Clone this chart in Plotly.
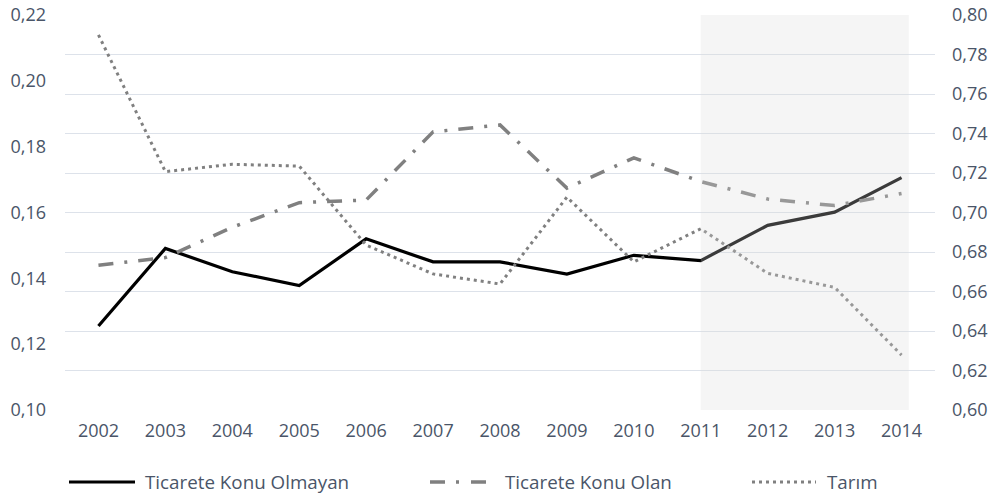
import plotly.graph_objects as go

years = list(range(2002, 2015))
ticarete_konu_olmayan = [0.1255, 0.1491, 0.1420, 0.1378, 0.1520, 0.1450, 0.1450,
                         0.1413, 0.1470, 0.1454, 0.1561, 0.1601, 0.1706]
ticarete_konu_olan = [0.1440, 0.1463, 0.1555, 0.1630, 0.1638, 0.1845, 0.1866,
                      0.1674, 0.1766, 0.1694, 0.1641, 0.1621, 0.1658]
tarim = [0.7899, 0.7207, 0.7244, 0.7235, 0.6835, 0.6689, 0.6638,
         0.7078, 0.6750, 0.6918, 0.6692, 0.6621, 0.6278]
legend_names = ["Ticarete Konu Olmayan", "Ticarete Konu Olan", "Tarım"]

FONT = "Open Sans, Lato, sans-serif"
TXT = "#4a5568"
W, H = 998, 497
L, R, T, B = 65, 63, 15, 87
PW, PH = W - L - R, H - T - B


def px_x(px):
    return (px - L) / PW


def px_y(py):
    return (H - B - py) / PH


fig = go.Figure()
fig.add_trace(go.Scatter(x=years, y=ticarete_konu_olmayan, mode="lines",
                         name=legend_names[0], line=dict(color="#000000", width=3.2),
                         showlegend=False))
fig.add_trace(go.Scatter(x=years, y=ticarete_konu_olan, mode="lines",
                         name=legend_names[1],
                         line=dict(color="#808080", width=3.5, dash="15px,11px,3px,11px"),
                         showlegend=False))
fig.add_trace(go.Scatter(x=years, y=tarim, mode="lines", name=legend_names[2],
                         yaxis="y2",
                         line=dict(color="#808080", width=3, dash="3px,4px"),
                         showlegend=False))

shapes = [
    dict(type="rect", xref="x", yref="paper", x0=2011, x1=2014.11, y0=0, y1=1,
         fillcolor="rgba(218,218,218,0.27)", line=dict(width=0), layer="above"),
    # manual legend symbols
    dict(type="line", xref="paper", yref="paper", x0=px_x(69), x1=px_x(135),
         y0=px_y(482), y1=px_y(482), line=dict(color="#000000", width=3.2)),
    dict(type="line", xref="paper", yref="paper", x0=px_x(430), x1=px_x(488),
         y0=px_y(482), y1=px_y(482),
         line=dict(color="#808080", width=3.5, dash="15px,11px,3px,12px")),
    dict(type="line", xref="paper", yref="paper", x0=px_x(752), x1=px_x(816),
         y0=px_y(482), y1=px_y(482),
         line=dict(color="#808080", width=3, dash="3px,4px")),
]

annotations = []
for name, xpx in zip(legend_names, [143, 503, 825]):
    annotations.append(dict(text=name, xref="paper", yref="paper", x=px_x(xpx),
                            y=px_y(482), xanchor="left", yanchor="middle",
                            showarrow=False, font=dict(family=FONT, size=18.8, color=TXT)))

fig.update_layout(
    width=W, height=H,
    margin=dict(l=L, r=R, t=T, b=B, autoexpand=False),
    paper_bgcolor="white", plot_bgcolor="white",
    separators=",.",
    showlegend=False,
    font=dict(family=FONT, size=18, color=TXT),
    xaxis=dict(range=[2001.5, 2014.5], tickmode="array", tickvals=years,
               ticktext=[str(y) for y in years], showgrid=False, zeroline=False,
               showline=False, ticks="", ticklabelstandoff=8, automargin=False,
               tickfont=dict(family=FONT, size=18, color=TXT)),
    yaxis=dict(range=[0.10, 0.22], dtick=0.02, tick0=0.10, tickformat=".2f",
               showgrid=False, zeroline=False, showline=False, ticks="",
               automargin=False,
               ticklabelstandoff=18, tickfont=dict(family=FONT, size=18, color=TXT)),
    yaxis2=dict(range=[0.60, 0.80], dtick=0.02, tick0=0.60, tickformat=".2f",
                overlaying="y", side="right", showgrid=True, gridcolor="#dde2ea",
                gridwidth=1.2, zeroline=False, showline=False, ticks="",
                automargin=False,
                ticklabelstandoff=16, tickfont=dict(family=FONT, size=18, color=TXT)),
    shapes=shapes,
    annotations=annotations,
)

fig.write_html("out.html", config={"displayModeBar": False},
               post_script="document.body.style.margin='0';document.body.style.overflow='hidden';")
